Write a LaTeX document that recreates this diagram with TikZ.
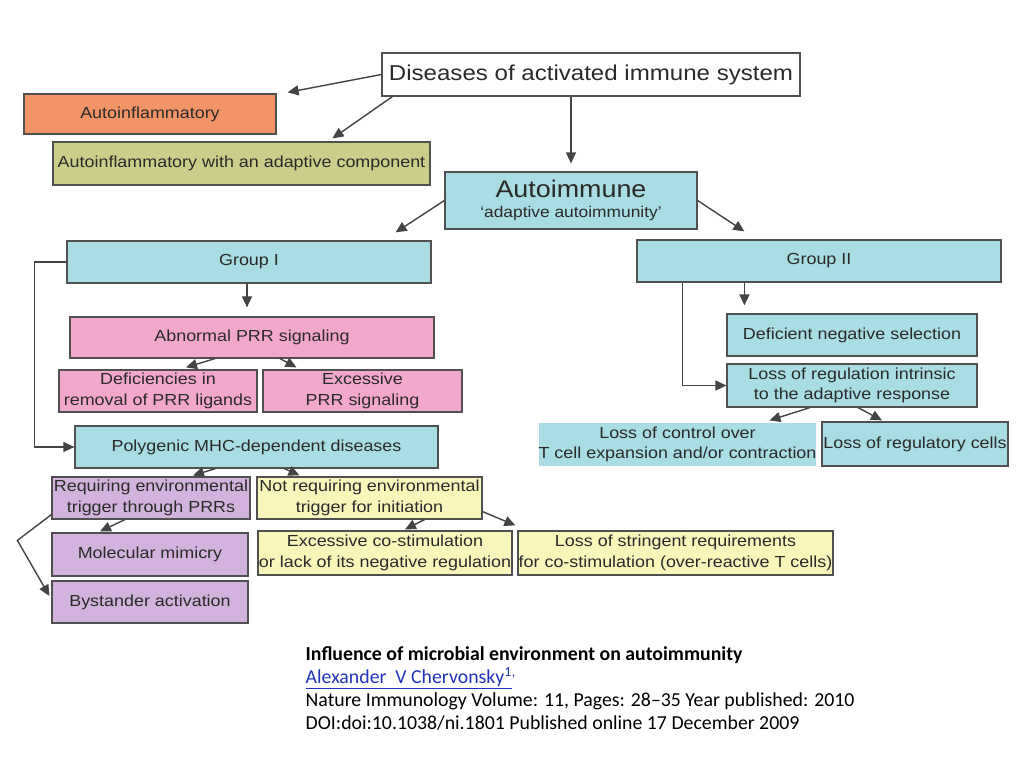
\documentclass[tikz,border=0pt]{standalone}
\usepackage{fontspec}
\setmainfont{Liberation Sans}[FakeStretch=1.12]
\newfontfamily\calibri{Carlito}[Ligatures=TeX]
\usetikzlibrary{arrows.meta}
\definecolor{BoxBorder}{HTML}{505050}
\definecolor{BoxText}{HTML}{2A2A2A}
\definecolor{BoxOrange}{HTML}{F39468}
\definecolor{BoxOlive}{HTML}{CBCE8B}
\definecolor{BoxBlue}{HTML}{A9DCE3}
\definecolor{BoxPink}{HTML}{F2A8CC}
\definecolor{BoxPurple}{HTML}{D2B3DD}
\definecolor{BoxYellow}{HTML}{F9F6BC}
\definecolor{LinkBlue}{HTML}{2233BB}
\begin{document}
\begin{tikzpicture}[x=1pt, y=-1pt, >={Triangle[length=11pt,width=10pt]}, line width=1.4pt,
    main/.style = {draw=BoxBorder, line width=1.2pt, inner sep=0pt, align=center, text=BoxText, font=\fontsize{16}{20.5}\selectfont},
    inflam/.style = {fill=BoxOrange}, mixed/.style = {fill=BoxOlive}, auto/.style = {fill=BoxBlue},
    prr/.style = {fill=BoxPink}, trig/.style = {fill=BoxPurple}, notrig/.style = {fill=BoxYellow},
    link/.style = {draw=BoxBorder!85!black}]
      \useasboundingbox[fill=white] (0,0) rectangle (1024,767);
      \node[main, fill=white, minimum width=418pt, minimum height=43pt, font=\fontsize{21.5}{24}\selectfont] (0) at (591,74.5) {Diseases of activated immune system};
      \node[main, inflam, minimum width=252pt, minimum height=40pt] (1) at (150,114) {Autoinflammatory};
      \node[main, mixed, minimum width=377pt, minimum height=43pt] (2) at (241.5,163.5) {Autoinflammatory with an adaptive component};
      \node[main, auto, minimum width=252pt, minimum height=57pt] (3) at (571,200.5) {{\fontsize{24}{26}\selectfont Autoimmune}\\[-1pt]{\fontsize{15.5}{18}\selectfont `adaptive autoimmunity'}};
      \node[main, auto, minimum width=364pt, minimum height=42pt] (4) at (249,262) {Group I};
      \node[main, auto, minimum width=364pt, minimum height=42pt] (5) at (819,261) {Group II};
      \node[main, prr, minimum width=364pt, minimum height=41pt] (6) at (252,337.5) {Abnormal PRR signaling};
      \node[main, prr, minimum width=198pt, minimum height=42pt] (7) at (158,391) {Deficiencies in\\removal of PRR ligands};
      \node[main, prr, minimum width=199pt, minimum height=42pt] (8) at (362.5,391) {Excessive\\PRR signaling};
      \node[main, auto, minimum width=363pt, minimum height=42pt] (9) at (256.5,447) {Polygenic MHC-dependent diseases};
      \node[main, trig, minimum width=198pt, minimum height=42pt] (10) at (151,498) {Requiring environmental\\trigger through PRRs};
      \node[main, notrig, minimum width=225pt, minimum height=42pt] (11) at (369.5,498) {Not requiring environmental\\trigger for initiation};
      \node[main, trig, minimum width=196pt, minimum height=43pt] (12) at (150,554.5) {Molecular mimicry};
      \node[main, trig, minimum width=196pt, minimum height=42pt] (13) at (150,602) {Bystander activation};
      \node[main, notrig, minimum width=254pt, minimum height=44pt] (14) at (385,553) {Excessive co-stimulation\\or lack of its negative regulation};
      \node[main, notrig, minimum width=315pt, minimum height=44pt] (15) at (675.5,553) {Loss of stringent requirements\\for co-stimulation (over-reactive T cells)};
      \node[main, auto, minimum width=250pt, minimum height=42pt] (16) at (852,335) {Deficient negative selection};
      \node[main, auto, minimum width=250pt, minimum height=43pt] (17) at (852,385.5) {Loss of regulation intrinsic\\to the adaptive response};
      \node[main, auto, draw=none, minimum width=275pt, minimum height=43pt] (18) at (677.5,444.5) {Loss of control over\\T cell expansion and/or contraction};
      \node[main, auto, minimum width=186pt, minimum height=44pt] (19) at (915,444) {Loss of regulatory cells};
      \draw[->, link] (0.west) -- ([xshift=11pt,yshift=1pt]1.north east);
      \draw[->, link] ([xshift=11pt]0.south west) -- ([xshift=91pt,yshift=3pt]2.north);
      \draw[->, link] (0.south -| 3.north) -- ([yshift=8pt]3.north);
      \draw[->, link] (3.west) -- ([xshift=-36pt,yshift=8pt]4.north east);
      \draw[->, link] (3.east) -- ([xshift=108pt,yshift=8pt]5.north west);
      \draw[->, link] ([xshift=-2pt]4.south) -- ([xshift=-2pt,yshift=9pt]4.south |- 6.north);
      \draw[->, link] (4.west) -- ++(-32,0) |- (9.west);
      \draw[->, link] ([xshift=46pt]5.south west) |- (17.west);
      \draw[->, link] ([xshift=108pt]5.south west) -- ([xshift=18pt,yshift=8pt]16.north west);
      \draw[->, link] ([xshift=-37pt]6.south) -- ([xshift=28pt,yshift=2pt]7.north);
      \draw[->, link] ([xshift=28pt]6.south) -- ([xshift=-66pt,yshift=2pt]8.north);
      \draw[->, link] ([xshift=-42pt]17.south) -- ([xshift=92pt,yshift=2pt]18.north);
      \draw[->, link] ([xshift=6pt]17.south) -- ([xshift=-33pt,yshift=1pt]19.north);
      \draw[->, link] ([xshift=-41pt]9.south) -- ([xshift=42pt,yshift=1pt]10.north);
      \draw[->, link] ([xshift=28pt]9.south) -- ([xshift=-70pt,yshift=1pt]11.north);
      \draw[->, link] ([xshift=-26pt]10.south) -- ([xshift=-50pt,yshift=1pt]12.north);
      \draw[->, link] ([yshift=5pt]10.south west) -- ([xshift=-34pt,yshift=-8pt]12.north west) -- ([xshift=-2pt,yshift=6pt]13.west);
      \draw[->, link] ([xshift=55pt]11.south) -- ([xshift=20pt,yshift=1pt]14.north);
      \draw[->, link] ([yshift=8pt]11.south east) -- ([xshift=-2pt,yshift=5pt]15.north west);
      % reference under the chart
      \node[anchor=north west, inner sep=0pt, align=left, font=\calibri\fontsize{19.8}{23}\selectfont] (20) at (305,646) {\textbf{Influence of microbial environment on autoimmunity}\\\textcolor{LinkBlue}{\underline{Alexander\ \ V Chervonsky\textsuperscript{1}}\textsuperscript{,}}\\Nature Immunology Volume: 11, Pages: 28–35 Year published: 2010\\DOI:doi:10.1038/ni.1801 Published online 17 December 2009};
\end{tikzpicture}
\end{document}
